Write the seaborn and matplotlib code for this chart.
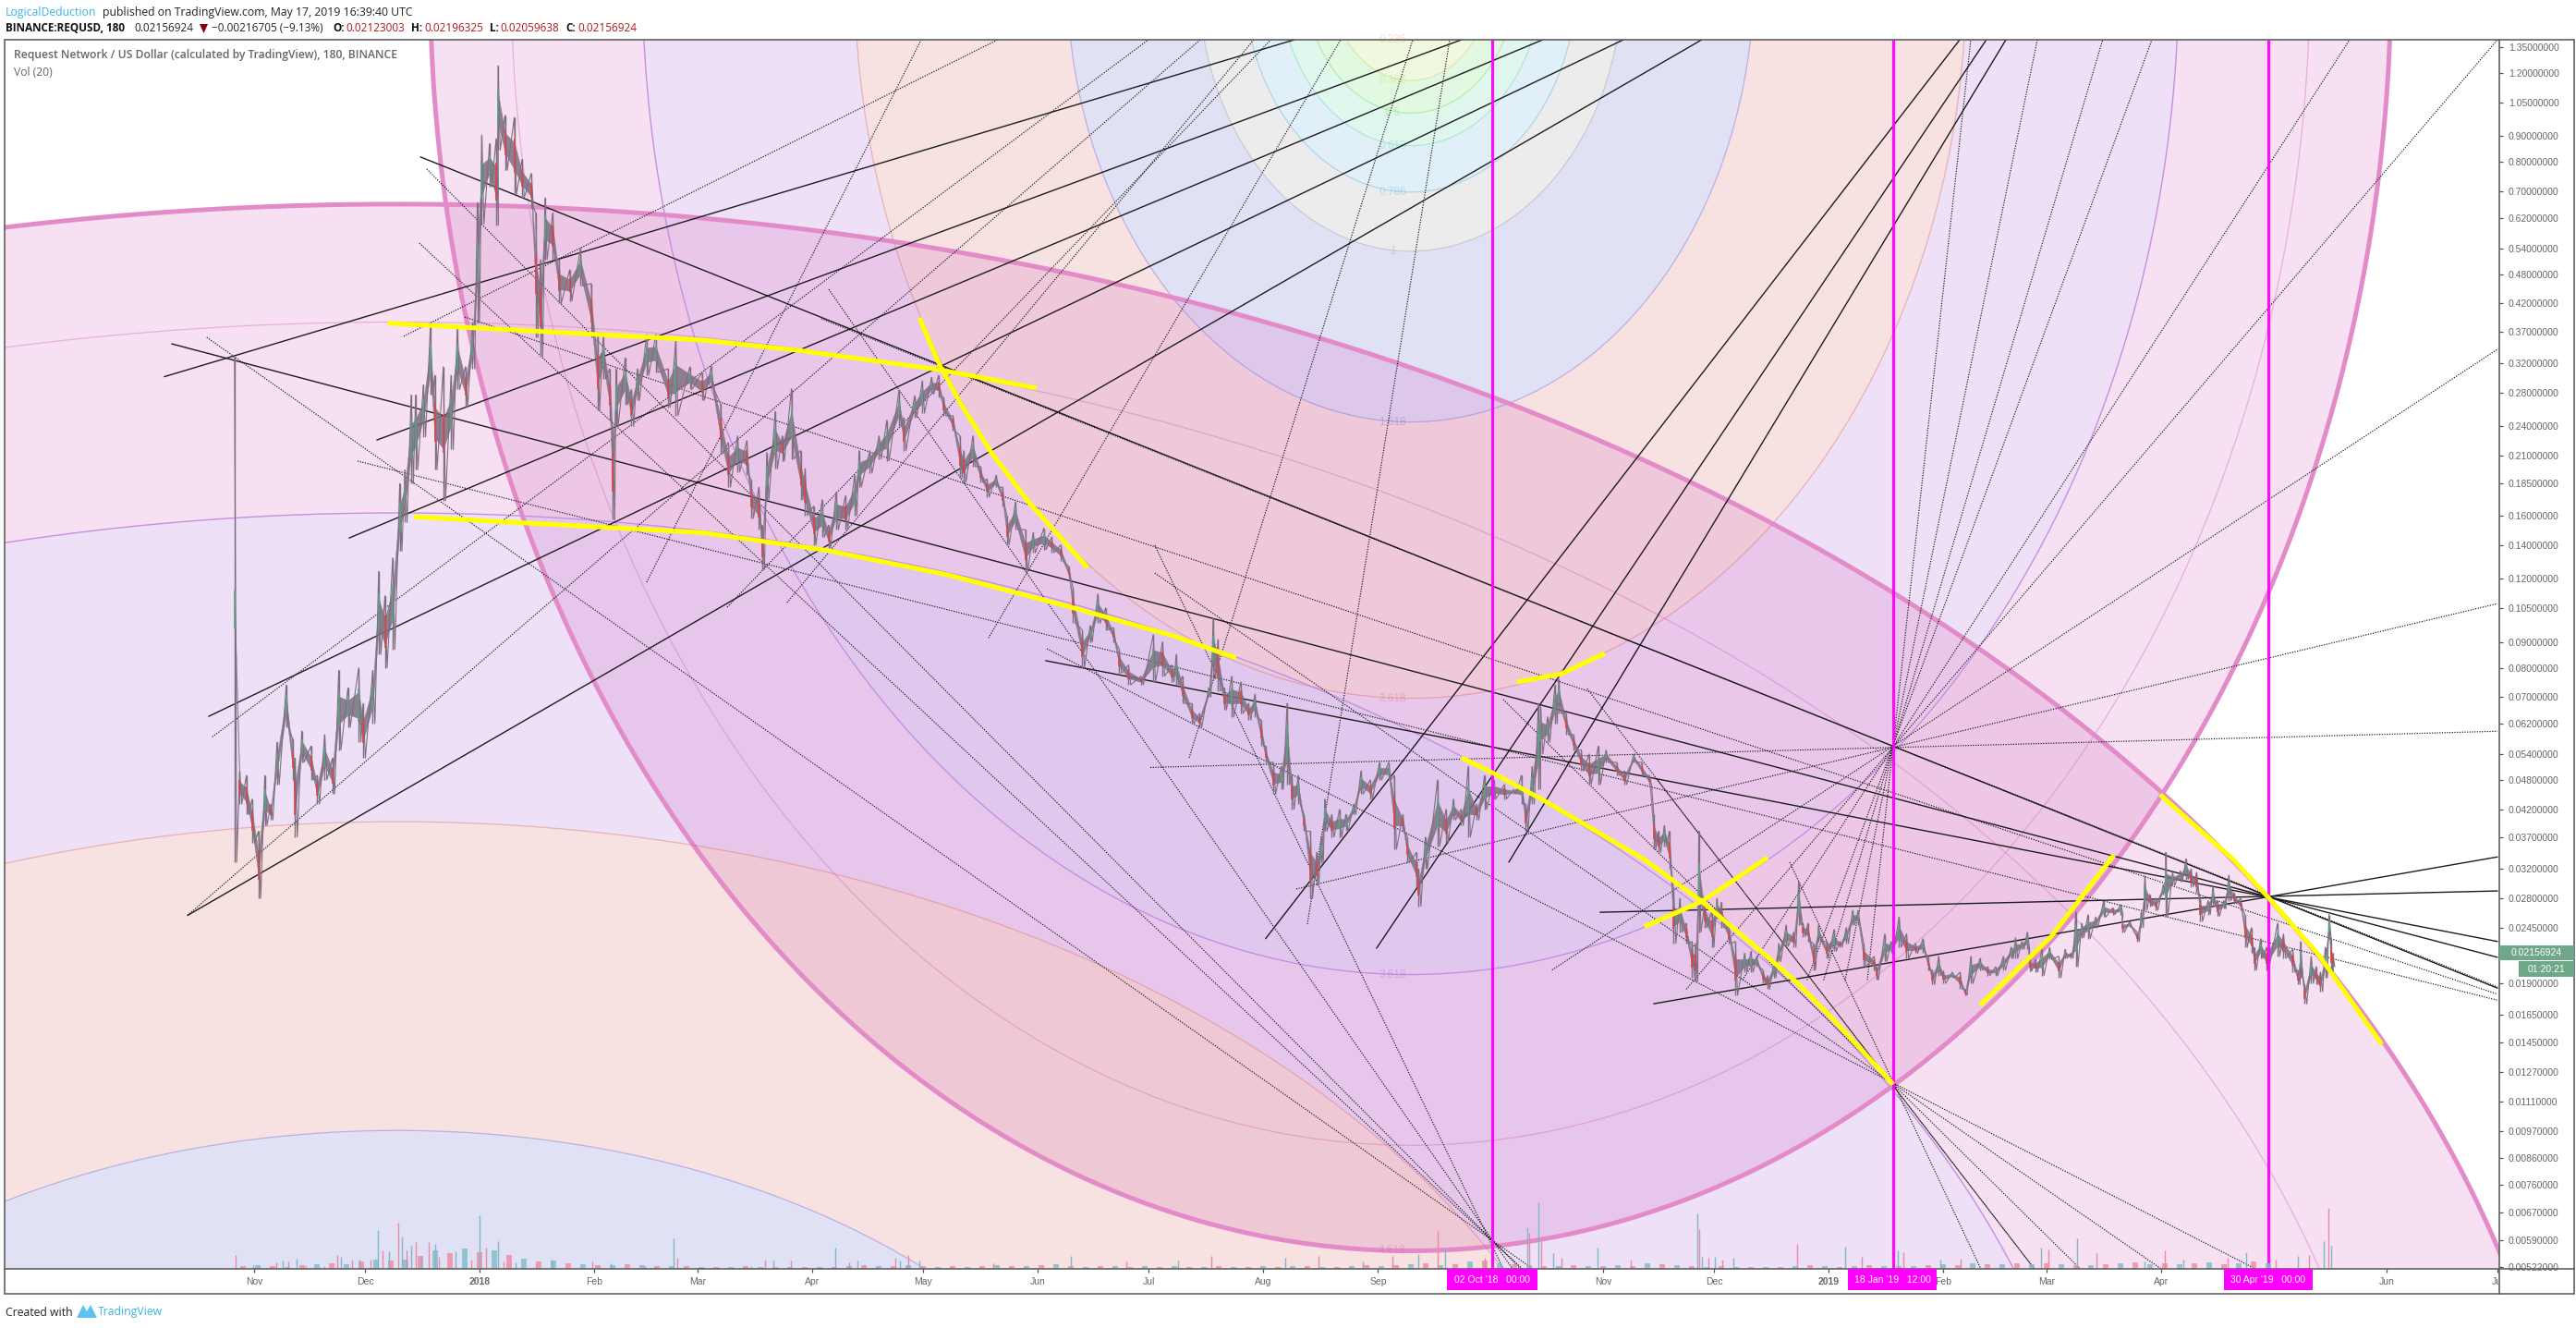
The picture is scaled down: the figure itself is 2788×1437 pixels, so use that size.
import numpy as np
import pandas as pd
import seaborn as sns
import matplotlib
matplotlib.use("Agg")
import matplotlib.pyplot as plt
import matplotlib.dates as mdates
from matplotlib.lines import Line2D
from matplotlib.patches import Rectangle, Polygon
from matplotlib.ticker import FixedLocator, NullLocator
from matplotlib.transforms import Bbox, TransformedBbox, IdentityTransform

W, H = 2788, 1437
sns.set_theme(style="white", rc={"font.family": "Liberation Sans"})

# all day numbers below count from this date
START = pd.Timestamp("2017-11-01")

month_ticks = ["2017-11-01", "2017-12-01", "2018-01-01", "2018-02-01", "2018-03-01", "2018-04-01", "2018-05-01",
               "2018-06-01", "2018-07-01", "2018-08-01", "2018-09-01", "2018-10-01", "2018-11-01", "2018-12-01",
               "2019-01-01", "2019-02-01", "2019-03-01", "2019-04-01", "2019-05-01", "2019-06-01", "2019-07-01"]
# Oct and the second May sit behind the magenta date tags in the reference
month_labels = ["Nov", "Dec", "2018", "Feb", "Mar", "Apr", "May", "Jun", "Jul", "Aug", "Sep", "", "Nov", "Dec",
                "2019", "Feb", "Mar", "Apr", "", "Jun", "Jul"]

price_ticks = [1.35, 1.2, 1.05, 0.9, 0.8, 0.7, 0.62, 0.54, 0.48, 0.42, 0.37, 0.32, 0.28, 0.24, 0.21, 0.185, 0.16,
               0.14, 0.12, 0.105, 0.09, 0.08, 0.07, 0.062, 0.054, 0.048, 0.042, 0.037, 0.032, 0.028, 0.0245, 0.019,
               0.0165, 0.0145, 0.0127, 0.0111, 0.0097, 0.0086, 0.0076, 0.0067, 0.0059, 0.00522]

candle_day = [
    -5.4, -4, -2.2, -.6, 1.1, 2.8, 4.4, 6.1, 8.6, 10.3, 11, 12.8, 15.3, 17, 19, 21.1, 22.8, 25.3, 28.2, 29.4,
    32, 33.6, 35.3, 37.4, 39.3, 40.7, 42.4, 43.6, 45.7, 47.6, 48.8, 51.1, 53.2, 54.9, 57.1, 59, 60.3, 61.5, 63.6, 65.4,
    65.9, 67.8, 70.3, 72.4, 74.9, 76.1, 77.4, 78.6, 80.7, 82.4, 85.3, 88.2, 91.1, 92.8, 94.4, 96.1, 96.9, 97.8, 100.3, 102,
    103.6, 106.1, 108.6, 111.9, 114, 117.8, 121.1,
    123.6, 126.1, 128.2, 130.7, 133.2, 134.4, 136.5, 137.4, 138.6, 140.9, 142.8, 145.3, 147.8, 149, 151.3, 153.6, 155.3, 157.4, 159.9, 162.4,
    163.6, 166.5, 169, 171.1, 174.4, 175.7, 178.6, 180.7, 183.2, 185.1, 186.5, 189, 190.9, 191.9, 194.4, 196.5, 198.2, 200.7, 202.4, 203.6,
    205.9, 208.6, 210.7, 213.6, 215.7, 218.2, 220.3, 221.5, 224, 226.1, 228.2, 230.3, 232.4, 234, 236.5, 239.9, 243.2, 245.7, 248.2,
    249.4, 251.1, 253.6, 255.7, 258.2, 259.4, 260.7, 262.4, 264.4, 266.9, 269, 270.7, 272.4, 273.6, 275.7, 277.8, 279.4, 280.7, 282.4, 284,
    285.7, 287.4, 288.6, 289.6, 291.5, 293.6, 295.3, 297.4, 299.4, 301.9, 304.4, 306.9, 308.4, 310.7, 311.9, 314.4, 315, 316.8, 320.1, 322.4,
    324.4, 326.5, 328.4, 330.7, 332.8, 335.3, 338.2, 340.7, 342.8, 344, 345.7, 347.4, 348, 349.9, 351.9, 352.9, 354.9, 356.9, 359, 361.1,
    363.6, 365.7, 368.6, 370.7, 373.2, 375.3,
    377.4, 378.6, 379.9, 381.5, 382.8, 384, 385.7, 387.4, 389, 389.9, 390.8, 392.4, 394.3, 395.7, 396.9, 399, 400.7, 403.2, 404.9, 406.5,
    408.2, 409.4, 411.1, 412.4, 414.4, 416.5, 417.8, 419, 420.3, 421.8, 423.2, 425.3, 427.4, 429, 430.7, 432.4, 433.9, 435.4, 438.2, 438.8,
    441.1, 442.8, 445, 447, 449.4, 451.5, 452.8, 454, 455.7, 457, 459.4, 461.5, 462.8, 464.4, 466.9, 469, 471.1, 473.2, 475.3,
    476.5, 478.2, 479.7, 480.3, 481.9, 483.6, 485.7, 488.2, 489.9, 491.5, 492.8, 494.4, 496.1, 498.2, 500.3, 502.8, 505, 505.4, 507.4, 509.4,
    510.5, 511.5, 512.8, 514.4, 516.5, 517.1, 519, 521.1, 522.6, 524, 525.5, 526.5, 528.6, 529.9, 531.1, 532.8, 534.2, 535.7, 537.4, 538.6,
    540.3, 541.1, 542.8, 544.4, 547.4, 549, 551.5, 552.9, 553.6, 554.7, 556.5, 557.8, 559, 560.3, 561.3, 561.8, 562.3]
candle_high = [
    .33, .050, .049, .044, .038, .049, .043, .057, .074, .058, .053, .060, .056, .049, .059, .053, .079, .073, .080, .068,
    .079, .124, .111, .132, .185, .197, .277, .277, .290, .380, .303, .315, .303, .380, .315, .385, .665, .905, .87, .89,
    1.24, .99, .98, .81, .76, .635, .513, .68, .635, .513, .49, .54, .46, .368, .365, .312, .24, .312, .328, .284,
    .312, .365, .365, .312, .355, .315, .307,
    .316, .266, .223, .23, .225, .188, .182, .153, .213, .257, .23, .285, .215, .198, .167, .172, .153, .178, .175, .192,
    .215, .215, .23, .247, .283, .25, .276, .295, .30, .303, .274, .252, .23, .215, .23, .20, .189, .192, .182, .16,
    .17, .15, .148, .151, .145, .14, .127, .115, .095, .097, .112, .105, .096, .087, .081, .077, .093, .09, .081,
    .085, .077, .068, .065, .073, .10, .091, .073, .077, .075, .068, .071, .063, .056, .052, .051, .068, .049, .049, .041,
    .038, .0345, .037, .044, .041, .042, .041, .043, .050, .048, .052, .052, .049, .041, .037, .0345, .032, .037, .048, .042,
    .044, .042, .051, .043, .049, .048, .047, .046, .049, .043, .051, .068, .067, .064, .074, .076, .065, .059, .055, .054,
    .056, .055, .052, .05, .054, .052,
    .049, .041, .038, .039, .038, .029, .028, .025, .023, .0228, .038, .0273, .0265, .028, .0275, .0245, .023, .0218, .022, .0215,
    .0202, .0197, .021, .0228, .0248, .024, .0302, .025, .025, .0228, .0248, .023, .0243, .023, .0245, .0265, .0265, .0228, .0215, .0205,
    .0238, .023, .0257, .0238, .0228, .0233, .0215, .0202, .0215, .0201, .02, .02, .0185, .0215, .0213, .0205, .0205, .0215, .0224,
    .0234, .023, .024, .0213, .0212, .0222, .0224, .0215, .0222, .0218, .0263, .025, .026, .0257, .0276, .0268, .0272, .0252, .0252, .024,
    .0263, .031, .0285, .028, .0298, .0345, .0315, .0317, .0335, .032, .0315, .028, .0277, .0295, .0277, .0277, .0311, .0287, .028, .026,
    .0245, .0224, .0233, .0224, .025, .0238, .0222, .0202, .023, .0189, .0215, .0205, .02, .0224, .026, .0233, .0218]
candle_low = [
    .033, .043, .041, .036, .028, .039, .040, .047, .061, .048, .037, .052, .048, .043, .048, .045, .055, .061, .057, .053,
    .062, .085, .080, .087, .136, .155, .185, .197, .229, .277, .197, .171, .216, .284, .262, .312, .385, .603, .715, .600,
    .845, .77, .69, .68, .65, .360, .330, .513, .513, .42, .425, .455, .36, .258, .298, .247, .157, .24, .265, .24,
    .27, .303, .307, .262, .252, .284, .27,
    .286, .212, .182, .195, .192, .158, .15, .125, .172, .198, .205, .207, .172, .16, .14, .145, .138, .15, .15, .16,
    .182, .194, .207, .205, .24, .215, .25, .255, .278, .274, .252, .235, .19, .186, .20, .186, .174, .182, .167, .14,
    .15, .124, .135, .137, .135, .13, .12, .098, .08, .09, .098, .095, .09, .078, .074, .074, .075, .077, .075,
    .074, .068, .062, .061, .070, .076, .072, .066, .064, .065, .063, .064, .056, .052, .045, .046, .047, .042, .043, .038,
    .028, .0297, .0329, .038, .037, .037, .038, .041, .045, .044, .048, .048, .035, .038, .033, .0295, .027, .032, .0355, .036,
    .040, .039, .037, .040, .042, .044, .044, .045, .043, .038, .043, .046, .054, .057, .062, .065, .059, .055, .050, .047,
    .047, .052, .049, .047, .052, .049,
    .047, .035, .0345, .0355, .032, .0228, .024, .0228, .0195, .0192, .024, .0245, .0224, .0255, .0245, .0228, .018, .020, .020, .0205,
    .019, .0185, .0195, .021, .0225, .0224, .0248, .0235, .023, .0202, .023, .0213, .022, .0224, .0228, .0248, .0248, .0205, .0202, .0193,
    .021, .0218, .0224, .0213, .0218, .0218, .0202, .0189, .0197, .019, .0195, .0185, .018, .019, .0202, .0197, .0197, .0202, .0213,
    .0213, .0222, .0222, .0201, .020, .0197, .0212, .0195, .0213, .0213, .0205, .0234, .0233, .0245, .0257, .026, .026, .024, .0246, .023,
    .0245, .0265, .027, .0265, .0285, .0257, .0297, .0302, .0305, .0295, .0287, .0252, .026, .027, .0258, .0267, .0277, .0273, .0265, .0224,
    .0218, .0202, .0213, .0202, .0215, .0213, .02, .0189, .0195, .0173, .019, .0189, .0183, .0195, .0233, .02, .0205]

# tall volume bars, in arbitrary units
peak_day = [-5.1, -.3, 6, 7.6, 9.2, 11.3, 14, 18.8, 22.3, 23.3, 26.3, 28.4, 31.5, 33.5, 34.7, 36.3, 39, 40, 41.1, 42.4,
            43.7, 45.1, 47.2, 48.8, 49.9, 54.3, 58.6, 61, 62.6, 65.8, 67.4, 70.6, 76.2, 80.3, 91.3, 96.4, 105.7, 113.5, 114.5, 134.4,
            138.1, 140.3, 145.2, 157.2, 161, 163.2, 173.5, 174.7, 176.9, 179.8, 200, 221, 236, 250, 259, 279, 288, 300, 308, 315,
            320.1, 322.1, 332.8, 344.5, 345, 347.4, 348.1, 351.4, 353.6, 363.3, 372.5, 390.5, 391, 391.6, 393.5, 395.2, 397.1, 400.2, 417.4, 430.4,
            435, 444.7, 446.1, 456.2, 461.6, 483.5, 485.3, 493.1, 498.4, 511.5, 517, 522, 534, 539, 547, 553, 556, 560, 561.2, 562]
peak_volume = [15, 4, 7, 9, 8, 11, 3, 3, 15, 13, 10, 10, 10, 42, 20, 19, 50, 35, 20, 25,
               29, 13, 29, 27, 13, 19, 10, 58, 23, 30, 8, 7, 5, 10, 8, 6, 3, 33, 12, 3,
               10, 9, 9, 23, 7, 9, 12, 9, 15, 9, 6, 14, 8, 9, 14, 12, 14, 8, 14, 16,
               41, 23, 12, 45, 39, 72, 30, 17, 12, 23, 10, 60, 43, 13, 12, 13, 10, 12, 27, 24,
               13, 20, 18, 10, 11, 23, 21, 33, 17, 8, 20, 10, 12, 18, 10, 14, 15, 30, 66, 25]
# the low fuzz under them, one value per four days
quiet_volume = [3, 4, 3, 2, 4, 5, 6, 5, 8, 10, 9, 10, 14, 20, 17, 22, 18, 20, 15, 11, 8, 9, 6, 5, 4, 4, 5, 4, 3, 3,
                3, 2, 2, 2, 3, 2, 2, 2, 2, 2, 2, 3, 4, 3, 3, 4, 3, 2, 3, 2, 3, 4, 3, 3, 4, 5, 3, 2, 3, 3,
                2, 3, 2, 3, 2, 2, 3, 2, 2, 3, 2, 3, 3, 2, 2, 3, 4, 3, 4, 5, 6, 4, 5, 8, 9, 6, 5, 4, 3, 3,
                4, 3, 3, 4, 3, 6, 5, 4, 3, 2, 3, 2, 2, 2, 2, 3, 4, 3, 2, 3, 4, 3, 3, 3, 4, 5, 4, 6, 5, 5,
                6, 5, 6, 5, 4, 4, 5, 6, 7, 5, 6, 5, 6, 7, 5, 6, 8, 6]

fib_levels = [0.236, 0.382, 0.5, 0.618, 0.786, 1, 1.618, 2.618, 3.618, 4.236, 4.618]
fib_colors = ["#e8a070", "#b4dc64", "#6edc64", "#64d7aa", "#64afdc", "#a0a0a0", "#6969d2", "#d76969", "#aa64d2",
              "#d264be", "#d264be"]
fib_label_levels = [0.236, 0.382, 0.5, 0.618, 0.786, 1, 1.618, 2.618, 3.618, 4.618]

# two fib circle sets: centre day, centre price, day radius, log price radius
circle_a = (312.8, 1.875, 57.45, 1.258)
circle_b = (38.6, 0.001, 127.75, 1.406)

solid_day0 = [-24.4, 33.1, 25.6, -12.4, -18.1, 303.6, 273.6, 339.4, 44.9, -22.4, 214.1, 364.1, 378.6]
solid_price0 = [.301, .2256, .1444, .0641, .0259, .0223, .0233, .033, .8187, .3496, .0826, .02627, .01732]
solid_day1 = [281.4, 326.6, 348.6, 370.4, 391.6, 468.6, 461.4, 473.9, 606.9, 606.9, 606.9, 606.9, 606.9]
solid_price1 = [1.396, 1.396, 1.396, 1.396, 1.396, 1.396, 1.396, 1.396, .0186, .0214, .0230, .02895, .0338]

dotted_day0 = [27.9, 56.9, 153.4, -12.9, 46.6, 44.6, 155.4, 243.6, 214.4, 243.6, 337.9, 360.6, 415.4, 379.4,
               281.9, 242.4, 351.1, 436.4, 430.4, 424.6, 420.1, 402.6, 387.4,
               40.4, -11.4, -18.1, 106.1, 127.9, 144.1, 198.6, 252.9, 284.9]
dotted_price0 = [.205, .395, .392, .360, .775, .553, .448, .1397, .0872, .1231, .0692, .0727, .033, .0482,
                 .0292, .0508, .0202, .0193, .0193, .0193, .0193, .0193, .0185,
                 .362, .0584, .0259, .118, .1054, .1076, .0916, .0531, .0249]
dotted_day1 = [606.9, 606.9, 606.9, 345.9, 342.6, 343.1, 340.4, 337.9, 541.4, 515.9, 494, 481.6, 467.1, 481.6,
               606.9, 606.9, 606.9, 464.4, 482.4, 500.1, 513.4, 566.9, 606.9,
               201.1, 241.9, 255.9, 180.4, 275, 270.4, 293.9, 313.4, 323.4]
dotted_price1 = [.0176, .0181, .0187, .00518, .00518, .00518, .00518, .00518, .00518, .00518, .00518, .00518, .00518, .00518,
                 .1071, .0599, .341, 1.396, 1.396, 1.396, 1.396, 1.396, 1.396,
                 1.396, 1.396, 1.396, 1.396, 1.396, 1.396, 1.396, 1.396, 1.396]

yellow_days = [[36.1, 121.1, 146.9, 185.4, 211.6],
               [43.1, 121.1, 154.4, 187.9, 221.1, 248.6, 265.6],
               [179.9, 185.4, 191.1, 199.4, 209.4, 225.4],
               [341.6, 353.6, 365.4],
               [326.6, 335.4, 349.4, 365.4, 376.1, 391.6, 407.9, 416.9, 426.6, 443.4],
               [376.1, 391.6, 409.4],
               [466.9, 486.1, 503.1],
               [515.6, 535.4, 544.9, 558.6, 575.6]]
yellow_prices = [[.384, .3556, .3395, .3107, .2857],
                 [.159, .148, .1367, .122, .1053, .0925, .0836],
                 [.3934, .3172, .266, .2129, .1703, .1262],
                 [.0749, .0778, .0854],
                 [.0531, .0494, .0435, .0371, .0334, .0276, .0219, .0192, .0163, .012],
                 [.0246, .0276, .0337],
                 [.0172, .0235, .0341],
                 [.0449, .0334, .0281, .0216, .0144]]

vline_dates = ["2018-10-02 00:00", "2019-01-18 12:00", "2019-04-30 00:00"]
vline_labels = ["02 Oct '18   00:00", "18 Jan '19   12:00", "30 Apr '19   00:00"]

assert len(candle_day) == len(candle_high) == len(candle_low)
assert len(peak_day) == len(peak_volume)
assert len(dotted_day0) == len(dotted_price0) == len(dotted_day1) == len(dotted_price1)


def px(x, y):
    return x / W, 1 - y / H


def to_num(day):
    return mdates.date2num(START) + np.asarray(day, dtype=float)


def ellipse(center, level):
    theta = np.linspace(0, 2 * np.pi, 1441)
    x = center[0] + level * center[2] * np.cos(theta)
    y = center[1] * np.exp(level * center[3] * np.sin(theta))
    return to_num(x), y


fig = plt.figure(figsize=(W / 100, H / 100), dpi=100)
left, bottom = px(5, 1373)
plot_w, plot_h = 2700 / W, 1330 / H
ax = fig.add_axes([left, bottom, plot_w, plot_h])
ax.set_yscale("log")

for center in (circle_a, circle_b):
    inner = None
    for level, color in zip(fib_levels, fib_colors):
        x, y = ellipse(center, level)
        if inner is None:
            ax.fill(x, y, color=color, alpha=0.2, lw=0, zorder=1)
        else:
            ax.fill(np.r_[x, inner[0][::-1]], np.r_[y, inner[1][::-1]], color=color, alpha=0.2, lw=0, zorder=1)
        inner = (x, y)
        if level == 4.618:
            ax.plot(x, y, color="#e38bc9", lw=3.6, zorder=2)
        elif level == 3.618:
            ax.plot(x, y, color="#c58fe2", lw=1.0, zorder=2)
        else:
            ax.plot(x, y, color=color, lw=0.9, alpha=0.4, zorder=2)

for level, color in zip(fib_levels, fib_colors):
    if level in fib_label_levels:
        ax.text(to_num(circle_a[0] - 4.9), circle_a[1] * np.exp(-level * circle_a[3]), ("%g" % level), color=color,
                alpha=0.35, fontsize=8.5, ha="center", va="center", zorder=2)

for d0, p0, d1, p1 in zip(dotted_day0, dotted_price0, dotted_day1, dotted_price1):
    ax.plot(to_num([d0, d1]), [p0, p1], color="#111111", lw=0.85, ls=(0, (1, 1.3)), zorder=3)
for d0, p0, d1, p1 in zip(solid_day0, solid_price0, solid_day1, solid_price1):
    ax.plot(to_num([d0, d1]), [p0, p1], color="#1c1c1c", lw=1.0, zorder=3)

# candles: a scribble through the highs and lows, then wicks and coloured bodies
candle_x = to_num(candle_day)
highs, lows = np.array(candle_high), np.array(candle_low)
mids = np.sqrt(highs * lows)
spread = np.minimum((highs / lows) ** 0.22, 1.09)
ax.fill_between(candle_x, mids / spread ** 0.8, mids * spread ** 0.8, color="#7d6f80", lw=0.3, alpha=0.85, zorder=4)
zig = pd.DataFrame({"x": np.ravel(np.column_stack([candle_x, candle_x + 0.6])),
                    "price": np.ravel(np.column_stack([highs, lows]))})
sns.lineplot(data=zig, x="x", y="price", color="#7d6f80", lw=0.8, sort=False, estimator=None, ax=ax, zorder=4)
ax.vlines(candle_x, lows, highs, color="#7d6f80", lw=1.0, zorder=4)
body_red = np.r_[False, mids[1:] < mids[:-1]]
ax.vlines(candle_x[body_red], mids[body_red] / spread[body_red], mids[body_red] * spread[body_red], color="#d8474a",
          lw=1.2, zorder=5)
ax.vlines(candle_x[~body_red], mids[~body_red] / spread[~body_red], mids[~body_red] * spread[~body_red],
          color="#5f9f85", lw=1.2, zorder=5)

yellow = pd.DataFrame({"x": np.concatenate([to_num(d) for d in yellow_days]),
                       "price": np.concatenate(yellow_prices),
                       "seg": np.repeat(np.arange(len(yellow_days)), [len(d) for d in yellow_days])})
sns.lineplot(data=yellow, x="x", y="price", units="seg", estimator=None, sort=False, color="#ffff00", lw=3.6,
             solid_capstyle="butt", ax=ax, zorder=7)

vline_x = mdates.date2num(pd.to_datetime(vline_dates))
ax.vlines(vline_x, 0.00518, 1.396, color="#ff00ff", lw=2.3, alpha=0.95, zorder=6)

ax.set_xlim(to_num(-67.6), to_num(607.4))
ax.set_ylim(0.00518, 1.396)
ax.set_xlabel("")
ax.set_ylabel("")
ax.yaxis.tick_right()
ax.yaxis.set_major_locator(FixedLocator(price_ticks))
ax.yaxis.set_minor_locator(NullLocator())
ax.set_yticklabels(["%.8f" % p for p in price_ticks])
ax.set_xticks(mdates.date2num(pd.to_datetime(month_ticks)))
ax.set_xticklabels(month_labels)
ax.tick_params(axis="y", which="major", right=True, length=3, width=0.9, color="#555555", pad=4.2, labelsize=7.5,
               labelcolor="#666666")
ax.tick_params(axis="x", which="major", bottom=True, length=3, width=0.9, color="#555555", pad=3.5, labelsize=7.5,
               labelcolor="#666666")
for lab in ax.get_xticklabels():
    if lab.get_text() in ("2018", "2019"):
        lab.set_fontweight("bold")
last_tick = ax.get_xticklabels()[-1]
last_tick.set_clip_box(TransformedBbox(Bbox([[0, 0], [2705, H]]), IdentityTransform()))
last_tick.set_clip_on(True)
for spine in ax.spines.values():
    spine.set_visible(False)

ax_vol = fig.add_axes([left, bottom, plot_w, plot_h], sharex=ax)
ax_vol.patch.set_visible(False)
quiet_day = np.arange(len(quiet_volume)) * 4 - 3
ax_vol.vlines(to_num(quiet_day[::2]), 0, np.array(quiet_volume)[::2], color="#ee8fa3", lw=4.2, alpha=0.85)
ax_vol.vlines(to_num(quiet_day[1::2]), 0, np.array(quiet_volume)[1::2], color="#86bccb", lw=4.2, alpha=0.85)
ax_vol.vlines(to_num(peak_day[::2]), 0, peak_volume[::2], color="#e88ba2", lw=1.0)
ax_vol.vlines(to_num(peak_day[1::2]), 0, peak_volume[1::2], color="#7fb8c9", lw=1.0)
ax_vol.set_ylim(0, 1330)
ax_vol.axis("off")

# frame around the chart, price scale and time scale
frame_color = "#555555"
x0, y0 = px(5, 1400)
x1, y1 = px(2786, 43)
fig.add_artist(Rectangle((x0, y0), x1 - x0, y1 - y0, transform=fig.transFigure, fill=False, ec=frame_color, lw=1.1, zorder=8))
fig.add_artist(Line2D([px(2705, 0)[0]] * 2, [y0, y1], color=frame_color, lw=1.1, zorder=8))
fig.add_artist(Line2D([x0, x1], [px(0, 1373)[1]] * 2, color=frame_color, lw=1.1, zorder=8))


def box(x_a, y_a, x_b, y_b, color):
    xa, ya = px(x_a, y_b)
    xb, yb = px(x_b, y_a)
    fig.add_artist(Rectangle((xa, ya), xb - xa, yb - ya, transform=fig.transFigure, fc=color, ec="none", zorder=9))


def label(x, y, text, **kw):
    kw.setdefault("family", "Open Sans")
    kw.setdefault("fontsize", 8.85)
    kw.setdefault("va", "center")
    fx, fy = px(x, y)
    fig.text(fx, fy, text, zorder=10, **kw)


box(2705, 1023, 2786, 1039, "#6ea888")
box(2726, 1040, 2786, 1057, "#6ea888")
label(2745, 1031, "0.02156924", color="white", family="Liberation Sans", fontsize=7.5, ha="center")
label(2756, 1049, "01:20:21", color="white", family="Liberation Sans", fontsize=7.5, ha="center")

tag_spans = [(1566, 1664), (2000, 2096), (2407, 2503)]
for (xa, xb), text in zip(tag_spans, vline_labels):
    box(xa, 1373, xb, 1396, "#ff00ff")
    label((xa + xb) / 2, 1385, text, color="white", family="Liberation Sans", fontsize=7.5, ha="center")

label(6, 13, "LogicalDeduction", color="#3bb4e6")
label(111, 13, "published on TradingView.com, May 17, 2019 16:39:40 UTC", color="#222222")
label(6, 30, "BINANCE:REQUSD, 180", color="#111111", fontweight="bold", fontsize=8.5)
label(145, 30, "0.02156924", color="#222222", fontsize=8.5)
fig.add_artist(Polygon([px(216, 26), px(225, 26), px(220.5, 36)], transform=fig.transFigure, fc="#8b0000", ec="none", zorder=10))
label(229, 30, "\u22120.00216705 (\u22129.13%)", color="#222222", fontsize=8.5)
for xa, xb, head, val in [(360, 374, "O:", "0.02123003"), (445, 459, "H:", "0.02196325"),
                          (530, 541, "L:", "0.02059638"), (612, 625, "C:", "0.02156924")]:
    label(xa, 30, head, color="#111111", fontweight="bold", fontsize=8.5)
    label(xb, 30, val, color="#b01818", fontsize=8.5)
label(15, 60, "Request Network / US Dollar (calculated by TradingView), 180, BINANCE", color="#666666",
      fontweight="semibold", fontsize=8.75)
label(15, 78, "Vol (20)", color="#666666", fontsize=8.75)

label(6, 1420, "Created with", color="#222222")
fig.add_artist(Polygon([px(83, 1426), px(90, 1412), px(94, 1419), px(98, 1412), px(105, 1426)], transform=fig.transFigure,
                       fc="#5cc3ee", ec="none", zorder=10))
label(106, 1420, "TradingView", color="#3bb4e6")

fig.savefig("out.png", dpi=100, facecolor="white")
